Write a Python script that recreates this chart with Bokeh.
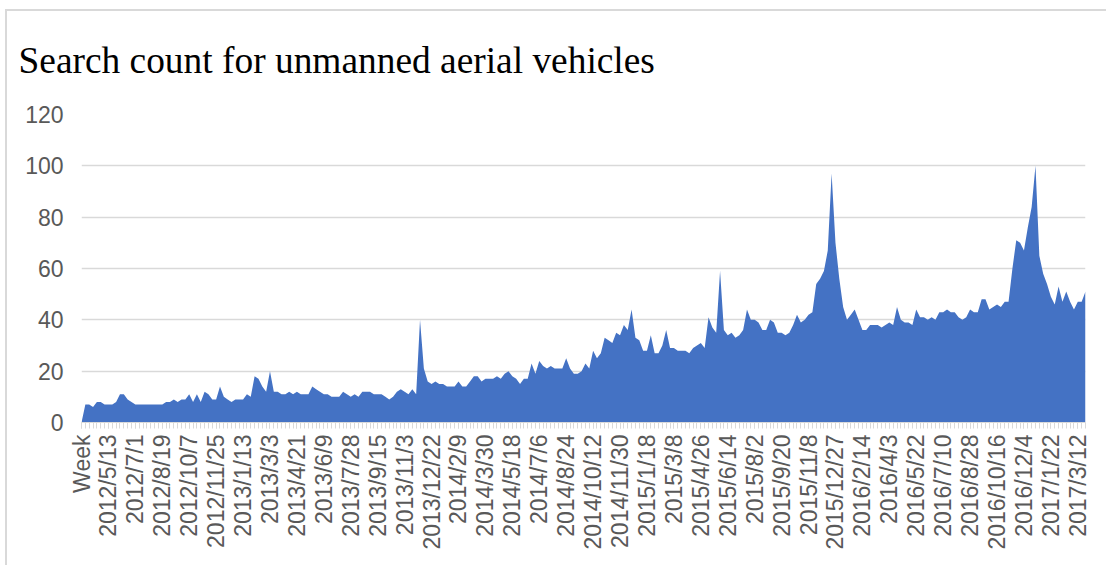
import math
from bokeh.plotting import figure
from bokeh.models import Range1d, FixedTicker, Title
from bokeh.embed import file_html
from bokeh.resources import INLINE

title_text = "Search count for unmanned aerial vehicles"

# x-axis tick labels (every 7th weekly category; first category is the header "Week")
tick_labels = [
    "Week", "2012/5/13", "2012/7/1", "2012/8/19", "2012/10/7", "2012/11/25",
    "2013/1/13", "2013/3/3", "2013/4/21", "2013/6/9", "2013/7/28", "2013/9/15",
    "2013/11/3", "2013/12/22", "2014/2/9", "2014/3/30", "2014/5/18", "2014/7/6",
    "2014/8/24", "2014/10/12", "2014/11/30", "2015/1/18", "2015/3/8", "2015/4/26",
    "2015/6/14", "2015/8/2", "2015/9/20", "2015/11/8", "2015/12/27", "2016/2/14",
    "2016/4/3", "2016/5/22", "2016/7/10", "2016/8/28", "2016/10/16", "2016/12/4",
    "2017/1/22", "2017/3/12",
]
label_step = 7

# weekly search counts (category 0 = "Week" header, plotted as 0)
search_count = [
    0, 7, 7, 6, 8, 8, 7, 7, 7, 8,
    11, 11, 9, 8, 7, 7, 7, 7, 7, 7,
    7, 7, 8, 8, 9, 8, 9, 9, 11, 8,
    11, 8, 12, 11, 9, 9, 14, 10, 9, 8,
    9, 9, 9, 11, 10, 18, 17, 14, 12, 20,
    12, 12, 11, 11, 12, 11, 12, 11, 11, 11,
    14, 13, 12, 11, 11, 10, 10, 10, 12, 11,
    10, 11, 10, 12, 12, 12, 11, 11, 11, 10,
    9, 10, 12, 13, 12, 11, 13, 11, 40, 21,
    16, 15, 16, 15, 15, 14, 14, 14, 16, 14,
    14, 16, 18, 18, 16, 17, 17, 17, 18, 17,
    19, 20, 18, 17, 15, 17, 17, 23, 19, 24,
    22, 21, 22, 21, 21, 21, 25, 21, 19, 19,
    20, 23, 21, 28, 25, 27, 33, 32, 31, 35,
    34, 38, 36, 44, 33, 32, 28, 28, 34, 27,
    27, 30, 36, 29, 29, 28, 28, 28, 27, 29,
    30, 31, 29, 41, 37, 35, 59, 36, 34, 35,
    33, 34, 36, 44, 40, 40, 39, 36, 36, 40,
    39, 35, 35, 34, 35, 38, 42, 39, 40, 42,
    43, 54, 56, 59, 67, 97, 70, 56, 45, 40,
    42, 44, 40, 36, 36, 38, 38, 38, 37, 38,
    39, 38, 45, 40, 39, 39, 38, 44, 41, 41,
    40, 41, 40, 43, 43, 44, 43, 43, 41, 40,
    41, 44, 43, 43, 48, 48, 44, 45, 46, 45,
    47, 47, 60, 71, 70, 67, 76, 84, 100, 65,
    58, 54, 49, 46, 53, 47, 51, 47, 44, 47,
    47, 51,
]
y_ticks = [0, 20, 40, 60, 80, 100, 120]

xs = list(range(len(search_count)))
n_last = len(search_count) - 1

p = figure(
    width=1101, height=556,
    output_backend="svg", toolbar_location=None,
    x_range=Range1d(0, n_last), y_range=Range1d(0, 120),
    min_border_left=74, min_border_right=23,
    min_border_top=103, min_border_bottom=145,
)
p.title.standoff = 0
p.styles = {
    "margin-left": "5px", "margin-top": "9px",
    "border-left": "2px solid #d9d9d9", "border-top": "2px solid #d9d9d9",
}
p.outline_line_color = None
p.background_fill_color = "white"
p.border_fill_color = "white"

# gap between the frame and the chart title (a blank title nearest the frame)
p.add_layout(Title(text=" ", text_font_size="1px", standoff=26), "above")
# the chart title itself, stacked above the gap
p.add_layout(Title(
    text=title_text, text_font="Liberation Serif", text_font_size="37.4px",
    text_font_style="normal", text_color="black", align="left",
    offset=-63, standoff=10,
), "above")

p.varea(x=xs, y1=0, y2=search_count, fill_color="#4472C4")

label_color = "#595959"
label_font = "Liberation Sans"
label_size = "23px"

# y axis
p.yaxis.ticker = FixedTicker(ticks=y_ticks)
p.yaxis.axis_line_color = None
p.yaxis.major_tick_line_color = None
p.yaxis.minor_tick_line_color = None
p.yaxis.major_tick_out = 0
p.yaxis.major_tick_in = 0
p.yaxis.major_label_standoff = 18
p.yaxis.major_label_text_font = label_font
p.yaxis.major_label_text_font_size = label_size
p.yaxis.major_label_text_color = label_color

# x axis
major = [label_step * k for k in range(len(tick_labels))]
p.xaxis.ticker = FixedTicker(ticks=major, minor_ticks=xs)
p.xaxis.major_label_overrides = {t: lab for t, lab in zip(major, tick_labels)}
p.xaxis.major_label_orientation = math.pi / 2
p.xaxis.axis_line_color = "#d9d9d9"
p.xaxis.axis_line_width = 1
p.xaxis.major_tick_line_color = "#d9d9d9"
p.xaxis.minor_tick_line_color = "#d9d9d9"
p.xaxis.major_tick_out = 6
p.xaxis.major_tick_in = 0
p.xaxis.minor_tick_out = 6
p.xaxis.minor_tick_in = 0
p.xaxis.major_label_standoff = 6
p.xaxis.major_label_text_font = label_font
p.xaxis.major_label_text_font_size = label_size
p.xaxis.major_label_text_color = label_color

p.xgrid.visible = False
p.ygrid.grid_line_color = "#d9d9d9"
p.ygrid.grid_line_width = 1.3

open("out.html", "w").write(file_html(p, INLINE))
